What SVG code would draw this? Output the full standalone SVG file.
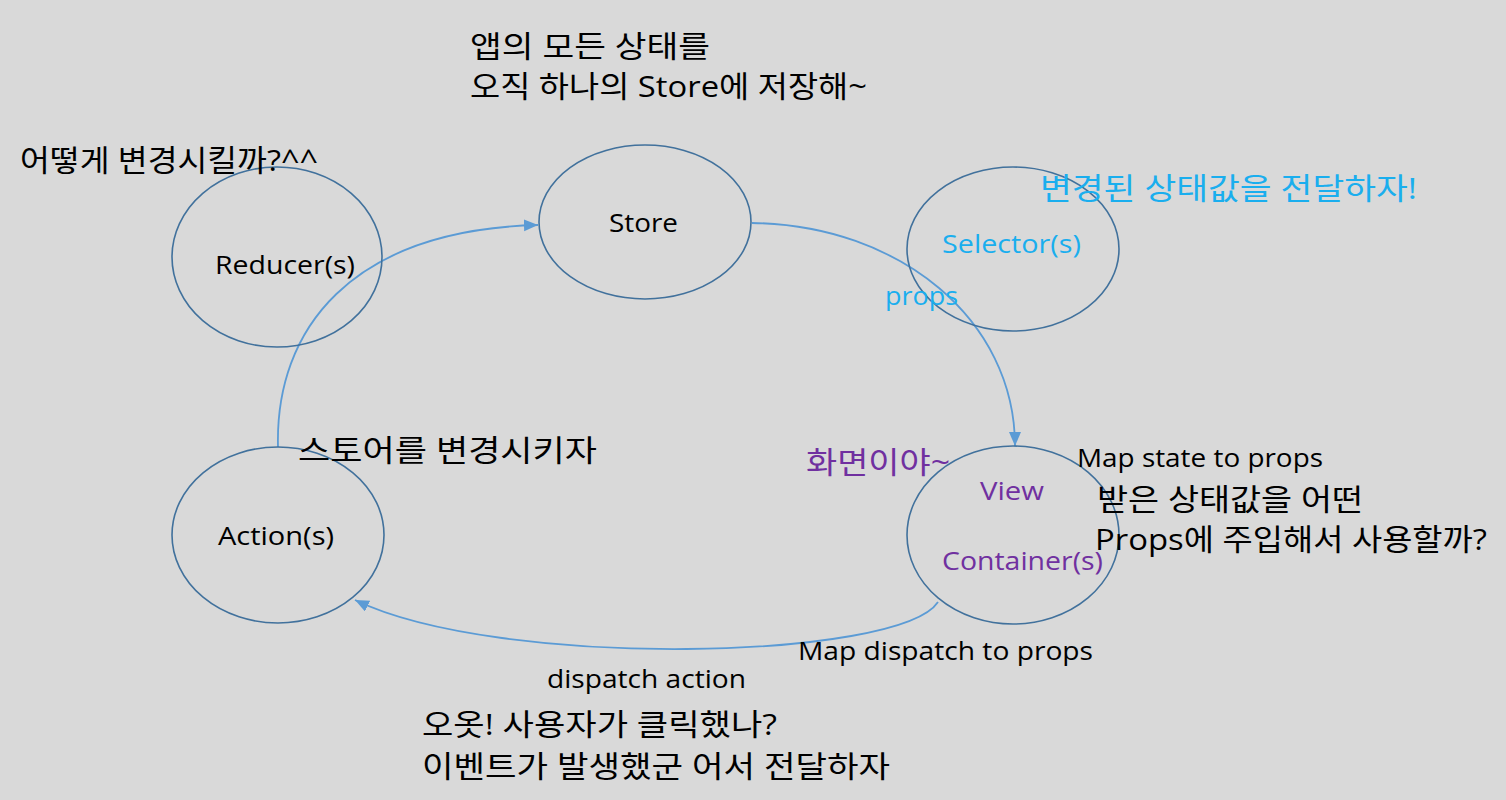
<svg xmlns="http://www.w3.org/2000/svg" width="1506" height="800" viewBox="0 0 1506 800">
<style>
.node{fill:none;stroke:#41719c;stroke-width:1.6}
.conn{fill:none;stroke:#5b9bd5;stroke-width:1.8}
text{font-family:"Open Sans","Noto Sans CJK KR",sans-serif;fill:#000}
.ko{font-size:30px}
.lb{font-size:26px}
.blue{fill:#1aaeee}
.pur{fill:#7030a0}
</style>
<defs>
<marker id="ah" markerUnits="userSpaceOnUse" markerWidth="16" markerHeight="14" refX="14" refY="6" orient="auto">
<path d="M0,0 L14,6 L0,12 Z" fill="#5b9bd5"/>
</marker>
</defs>
<rect width="1506" height="800" fill="#d9d9d9"/>
<g id="connectors">
<path class="conn" d="M278,447 C275,330 350,230 538,225" marker-end="url(#ah)"/>
<path class="conn" d="M752,223 C900,225 1015,320 1015,446" marker-end="url(#ah)"/>
<path class="conn" d="M938,602 C900,660 500,670 355,600" marker-end="url(#ah)"/>
</g>
<g id="store">
<ellipse class="node" cx="645" cy="222" rx="106" ry="77"/>
<text class="lb" x="609" y="232" textLength="69" lengthAdjust="spacingAndGlyphs">Store</text>
</g>
<g id="reducer">
<ellipse class="node" cx="277" cy="257" rx="105" ry="90"/>
<text class="lb" x="215" y="274" textLength="140" lengthAdjust="spacingAndGlyphs">Reducer(s)</text>
</g>
<g id="selector">
<ellipse class="node" cx="1013" cy="249" rx="106" ry="82"/>
<text class="lb blue" x="942" y="253" textLength="139" lengthAdjust="spacingAndGlyphs">Selector(s)</text>
</g>
<g id="action">
<ellipse class="node" cx="278" cy="535" rx="106" ry="88"/>
<text class="lb" x="218" y="545" textLength="116" lengthAdjust="spacingAndGlyphs">Action(s)</text>
</g>
<g id="view">
<ellipse class="node" cx="1013" cy="535" rx="106" ry="89"/>
<text class="lb pur" x="980" y="500" textLength="64" lengthAdjust="spacingAndGlyphs">View</text>
<text class="lb pur" x="942" y="570" textLength="161" lengthAdjust="spacingAndGlyphs">Container(s)</text>
</g>
<g id="labels">
<text class="ko" x="470" y="57" textLength="240" lengthAdjust="spacingAndGlyphs">앱의 모든 상태를</text>
<text class="ko" x="470" y="97" textLength="397" lengthAdjust="spacingAndGlyphs">오직 하나의 Store에 저장해~</text>
<text class="ko" x="20" y="171" textLength="298" lengthAdjust="spacingAndGlyphs">어떻게 변경시킬까?^^</text>
<text class="ko blue" x="1040" y="199" textLength="377" lengthAdjust="spacingAndGlyphs">변경된 상태값을 전달하자!</text>
<text class="lb blue" x="885" y="305" textLength="73" lengthAdjust="spacingAndGlyphs">props</text>
<text class="ko" x="298" y="461" textLength="299" lengthAdjust="spacingAndGlyphs">스토어를 변경시키자</text>
<text class="ko pur" x="806" y="473" textLength="144" lengthAdjust="spacingAndGlyphs">화면이야~</text>
<text class="lb" x="1077" y="467" textLength="246" lengthAdjust="spacingAndGlyphs">Map state to props</text>
<text class="ko" x="1097" y="510" textLength="266" lengthAdjust="spacingAndGlyphs">받은 상태값을 어떤</text>
<text class="ko" x="1095" y="550" textLength="392" lengthAdjust="spacingAndGlyphs">Props에 주입해서 사용할까?</text>
<text class="lb" x="798" y="660" textLength="295" lengthAdjust="spacingAndGlyphs">Map dispatch to props</text>
<text class="lb" x="547" y="688" textLength="199" lengthAdjust="spacingAndGlyphs">dispatch action</text>
<text class="ko" x="422" y="735" textLength="355" lengthAdjust="spacingAndGlyphs">오옷! 사용자가 클릭했나?</text>
<text class="ko" x="422" y="777" textLength="468" lengthAdjust="spacingAndGlyphs">이벤트가 발생했군 어서 전달하자</text>
</g>
</svg>
